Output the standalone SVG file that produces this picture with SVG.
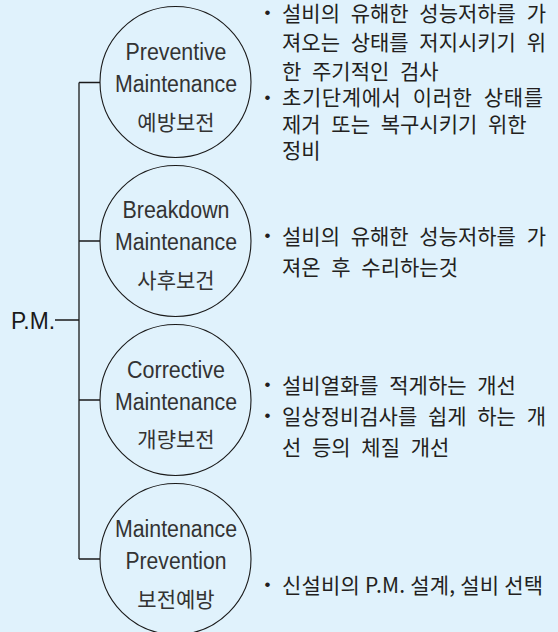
<svg xmlns="http://www.w3.org/2000/svg" width="558" height="632" viewBox="0 0 558 632">
<style>
.bg{fill:#e0f2fc}
.node circle{fill:none;stroke:#1a1a1a;stroke-width:1.1}
.lat{font-family:"Liberation Sans",Arial,sans-serif;font-size:23px;fill:#333;text-anchor:middle}
.kr{font-family:"Noto Sans CJK KR","Noto Sans",sans-serif;font-size:21px;fill:#333;text-anchor:middle}
.desc{font-family:"Noto Sans CJK KR","Noto Sans",sans-serif;font-size:21px;fill:#231f20;word-spacing:6px}
.bul{font-family:"Liberation Sans",Arial,sans-serif;font-size:17px;fill:#231f20}
.pm{font-family:"Liberation Sans",Arial,sans-serif;font-size:24px;fill:#1a1a1a}
#connectors path{fill:none;stroke:#1a1a1a;stroke-width:1.3}
</style>
<rect class="bg" x="0" y="0" width="558" height="632"/>
<g id="connectors">
<path d="M55,320H79M79,82.5V559M79,82.5H100M79,241H100M79,400H100M79,559H100"/>
</g>
<g id="root">
<text class="pm" x="11" y="329" textLength="44" lengthAdjust="spacingAndGlyphs">P.M.</text>
</g>
<g id="n1" class="node">
<circle cx="175.5" cy="82" r="75.5"/>
<text class="lat" x="176" y="60" textLength="101" lengthAdjust="spacingAndGlyphs">Preventive</text>
<text class="lat" x="176" y="92" textLength="122" lengthAdjust="spacingAndGlyphs">Maintenance</text>
<text class="kr" x="176" y="130">예방보전</text>
</g>
<g id="n2" class="node">
<circle cx="175.5" cy="241" r="75.5"/>
<text class="lat" x="176" y="218" textLength="107" lengthAdjust="spacingAndGlyphs">Breakdown</text>
<text class="lat" x="176" y="250" textLength="122" lengthAdjust="spacingAndGlyphs">Maintenance</text>
<text class="kr" x="176" y="288">사후보건</text>
</g>
<g id="n3" class="node">
<circle cx="175.5" cy="400" r="75.5"/>
<text class="lat" x="176" y="378" textLength="98" lengthAdjust="spacingAndGlyphs">Corrective</text>
<text class="lat" x="176" y="410" textLength="122" lengthAdjust="spacingAndGlyphs">Maintenance</text>
<text class="kr" x="176" y="447">개량보전</text>
</g>
<g id="n4" class="node">
<circle cx="175.5" cy="559" r="75.5"/>
<text class="lat" x="176" y="537" textLength="122" lengthAdjust="spacingAndGlyphs">Maintenance</text>
<text class="lat" x="176" y="569" textLength="101" lengthAdjust="spacingAndGlyphs">Prevention</text>
<text class="kr" x="176" y="607">보전예방</text>
</g>
<g id="d1">
<text class="bul" x="264.5" y="18">•</text>
<text class="desc" x="282" y="20.5">설비의 유해한 성능저하를 가</text>
<text class="desc" x="282" y="50">져오는 상태를 저지시키기 위</text>
<text class="desc" x="282" y="78.5">한 주기적인 검사</text>
<text class="bul" x="264.5" y="102.5">•</text>
<text class="desc" x="282" y="105" textLength="261" lengthAdjust="spacing">초기단계에서 이러한 상태를</text>
<text class="desc" x="282" y="131.5">제거 또는 복구시키기 위한</text>
<text class="desc" x="282" y="157.5">정비</text>
</g>
<g id="d2">
<text class="bul" x="264.5" y="241">•</text>
<text class="desc" x="282" y="243.5">설비의 유해한 성능저하를 가</text>
<text class="desc" x="282" y="275">져온 후 수리하는것</text>
</g>
<g id="d3">
<text class="bul" x="264.5" y="390">•</text>
<text class="desc" x="282" y="392.5">설비열화를 적게하는 개선</text>
<text class="bul" x="264.5" y="421">•</text>
<text class="desc" x="282" y="423.5">일상정비검사를 쉽게 하는 개</text>
<text class="desc" x="282" y="454.5">선 등의 체질 개선</text>
</g>
<g id="d4">
<text class="bul" x="264.5" y="590">•</text>
<text class="desc" x="282" y="592.5" style="word-spacing:0" textLength="261" lengthAdjust="spacing">신설비의 P.M. 설계, 설비 선택</text>
</g>
</svg>
